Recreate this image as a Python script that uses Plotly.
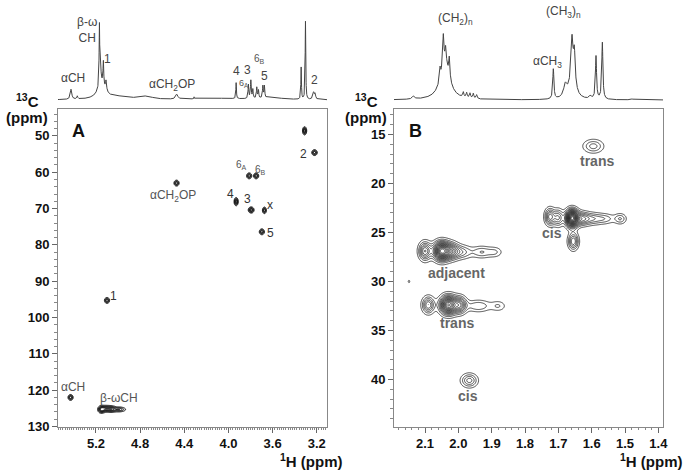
import numpy as np
import plotly.graph_objects as go

W, H = 689, 473

# ---------------- 1D 1H spectrum, panel A (peak list) ----------------
a1d_ppm    = [5.426, 5.369, 5.169, 5.160, 5.15, 5.133, 5.109, 4.74, 4.468, 4.311, 3.930, 3.819, 3.797, 3.779, 3.743, 3.728, 3.688, 3.674, 3.60, 3.341, 3.302, 3.229, 3.215, 4.1, 5.0]
a1d_height = [10, 3, 58, 22, 14, 24, 10, 3, 5, 2, 16, 14, 18, 9, 11, 8, 12, 12, 2, 32, 78, 7, 5, 1.5, 3]
a1d_width  = [0.008, 0.005, 0.003, 0.006, 0.04, 0.004, 0.006, 0.06, 0.012, 0.002, 0.003, 0.004, 0.004, 0.004, 0.004, 0.004, 0.004, 0.004, 0.12, 0.003, 0.003, 0.008, 0.006, 0.25, 0.15]

# ---------------- 1D 1H spectrum, panel B (peak list) ----------------
b1d_ppm    = [2.135, 2.040, 2.055, 2.045, 2.038, 2.027, 1.985, 1.975, 1.965, 1.955, 1.945, 1.715, 1.679, 1.659, 1.652, 1.658, 1.604, 1.587, 1.568, 1.479]
b1d_height = [3, 38, 12, 30, 14, 20, 5, 5, 5, 5, 4, 30, 12, 35, 30, 25, 3, 43, 57, 1]
b1d_width  = [0.004, 0.016, 0.002, 0.002, 0.002, 0.002, 0.002, 0.002, 0.002, 0.002, 0.002, 0.002, 0.006, 0.003, 0.003, 0.010, 0.004, 0.002, 0.002, 0.004]

# ---------------- 2D HSQC peaks, panel A ----------------
a2d_h   = [5.430, 5.150, 5.110, 5.060, 4.990, 5.100, 4.470, 3.930, 3.794, 3.812, 3.749, 3.674, 3.697, 3.310, 3.220]
a2d_c   = [122.0, 125.3, 125.1, 125.2, 125.3, 95.3, 63.0, 68.1, 70.4, 61.0, 61.0, 70.5, 76.4, 48.6, 54.6]
a2d_amp = [1.0, 1.3, 1.0, 1.0, 0.8, 1.0, 1.0, 1.2, 1.2, 1.0, 1.0, 1.0, 1.0, 1.2, 1.0]
a2d_sh  = [0.013, 0.018, 0.025, 0.025, 0.035, 0.013, 0.013, 0.010, 0.014, 0.013, 0.013, 0.010, 0.013, 0.010, 0.014]
a2d_sc  = [0.45, 0.55, 0.5, 0.5, 0.4, 0.45, 0.45, 0.6, 0.45, 0.45, 0.45, 0.5, 0.45, 0.6, 0.45]

# ---------------- 2D HSQC peaks, panel B ----------------
b2d_h   = [1.595, 1.725, 1.700, 1.659, 1.630, 1.600, 1.560, 1.514, 1.655, 2.100, 2.050, 2.020, 1.990, 1.930, 1.890, 2.090, 2.030, 1.995, 1.940, 1.880, 1.967, 2.148]
b2d_c   = [16.2, 23.4, 23.5, 23.55, 23.6, 23.6, 23.6, 23.6, 25.9, 26.9, 26.9, 26.9, 27.0, 27.0, 27.0, 32.4, 32.4, 32.4, 32.5, 32.5, 40.1, 30.0]
b2d_amp = [0.35, 0.65, 0.5, 1.8, 0.5, 0.35, 0.25, 0.3, 0.6, 0.7, 1.5, 0.6, 0.35, 0.3, 0.2, 0.6, 1.4, 0.7, 0.3, 0.2, 0.45, 0.12]
b2d_sh  = [0.020, 0.010, 0.010, 0.012, 0.015, 0.020, 0.020, 0.012, 0.010, 0.012, 0.016, 0.015, 0.020, 0.020, 0.015, 0.012, 0.016, 0.013, 0.025, 0.015, 0.016, 0.004]
b2d_sc  = [0.45, 0.55, 0.55, 0.55, 0.45, 0.4, 0.35, 0.35, 0.55, 0.6, 0.6, 0.55, 0.45, 0.4, 0.35, 0.55, 0.6, 0.55, 0.4, 0.35, 0.45, 0.2]

# axis ranges
a_xr, a_yr = [5.544, 3.107], [130, 42.6]
b_xr, b_yr = [2.193, 1.386], [44.8, 12.4]


def lorentz(x, pos, hts, wds):
    y = np.zeros_like(x)
    for c, h, w in zip(pos, hts, wds):
        y += h * w * w / ((x - c) ** 2 + w * w)
    return y


def gauss2d(xg, yg, hs, cs, amps, shs, scs):
    X, Y = np.meshgrid(xg, yg)
    Z = np.zeros_like(X)
    for h, c, a, sh, sc in zip(hs, cs, amps, shs, scs):
        Z += a * np.exp(-0.5 * (((X - h) / sh) ** 2 + ((Y - c) / sc) ** 2))
    return np.round(Z, 3)


fig = go.Figure()

# 1D spectra
xa = np.linspace(a_xr[1], a_xr[0], 3000)
fig.add_trace(go.Scatter(x=xa, y=lorentz(xa, a1d_ppm, a1d_height, a1d_width), mode='lines',
                         line=dict(color='#444', width=1), xaxis='x3', yaxis='y3', hoverinfo='skip'))
xb = np.linspace(b_xr[1], b_xr[0], 3000)
fig.add_trace(go.Scatter(x=xb, y=lorentz(xb, b1d_ppm, b1d_height, b1d_width), mode='lines',
                         line=dict(color='#444', width=1), xaxis='x4', yaxis='y4', hoverinfo='skip'))

# 2D contours panel A
xg = np.linspace(a_xr[1], a_xr[0], 600)
yg = np.linspace(a_yr[1], a_yr[0], 450)
fig.add_trace(go.Contour(x=xg, y=yg, z=gauss2d(xg, yg, a2d_h, a2d_c, a2d_amp, a2d_sh, a2d_sc),
                         contours=dict(start=0.2, end=1.2, size=0.2, coloring='none'),
                         line=dict(color='#111', width=1), showscale=False, hoverinfo='skip',
                         xaxis='x', yaxis='y'))
# 2D contours panel B
xg2 = np.linspace(b_xr[1], b_xr[0], 400)
yg2 = np.linspace(b_yr[1], b_yr[0], 400)
fig.add_trace(go.Contour(x=xg2, y=yg2, z=gauss2d(xg2, yg2, b2d_h, b2d_c, b2d_amp, b2d_sh, b2d_sc),
                         contours=dict(start=0.1, end=2.0, size=0.1, coloring='none'),
                         line=dict(color='#222', width=0.8), showscale=False, hoverinfo='skip',
                         xaxis='x2', yaxis='y2'))

FONT = 'Liberation Sans, Arial, sans-serif'
tickfont = dict(family=FONT, size=13, color='#111', weight='bold')
dom_ax = [58 / W, 327 / W]
dom_bx = [394 / W, 663 / W]
dom_2d = [1 - 426.5 / H, 1 - 109 / H]
dom_1d = [1 - 102 / H, 1 - 8 / H]

frame = dict(showline=True, mirror=True, linecolor='#888', linewidth=1, ticks='outside',
             ticklen=5, tickcolor='#666', showgrid=False, zeroline=False, tickfont=tickfont,
             automargin=False)

fig.update_layout(
    width=W, height=H, margin=dict(l=0, r=0, t=0, b=0, autoexpand=False),
    paper_bgcolor='white', plot_bgcolor='white', showlegend=False,
    xaxis=dict(domain=dom_ax, range=a_xr, anchor='y', tick0=3.2, dtick=0.4, tickformat='.1f',
               minor=dict(dtick=0.02, ticklen=2, ticks='outside', tickcolor='#888'), **frame),
    yaxis=dict(domain=dom_2d, range=a_yr, anchor='x', tick0=50, dtick=10,
               minor=dict(dtick=2, ticklen=3, ticks='outside', tickcolor='#888'), **frame),
    xaxis2=dict(domain=dom_bx, range=b_xr, anchor='y2', tick0=1.4, dtick=0.1, tickformat='.1f',
                minor=dict(dtick=0.02, ticklen=2, ticks='outside', tickcolor='#888'), **frame),
    yaxis2=dict(domain=dom_2d, range=b_yr, anchor='x2', tick0=15, dtick=5,
                minor=dict(dtick=1, ticklen=3, ticks='outside', tickcolor='#888'), **frame),
    xaxis3=dict(domain=dom_ax, range=a_xr, anchor='y3', visible=False, automargin=False),
    yaxis3=dict(domain=dom_1d, range=[-2, 92], anchor='x3', visible=False, automargin=False),
    xaxis4=dict(domain=dom_bx, range=b_xr, anchor='y4', visible=False, automargin=False),
    yaxis4=dict(domain=dom_1d, range=[-2, 92], anchor='x4', visible=False, automargin=False),
)

ann = []
def add(text, x, y, xref, yref, size=12, color='#555', bold=False, xanchor='center', yanchor='middle'):
    ann.append(dict(text=text, x=x, y=y, xref=xref, yref=yref, showarrow=False,
                    xanchor=xanchor, yanchor=yanchor,
                    font=dict(family=FONT, size=size, color=color, weight='bold' if bold else 'normal')))

def P(px, py):
    return px / W, 1 - py / H

# Panel letters and axis titles
for lab, (pxx, pyy) in [('A', (78, 131)), ('B', (415, 131))]:
    x, y = P(pxx, pyy)
    add(lab, x, y, 'paper', 'paper', size=18, color='#111', bold=True)
for pxx in (345, 685):
    x, y = P(pxx, 460)
    add('<sup>1</sup>H (ppm)', x, y, 'paper', 'paper', size=15, color='#111', bold=True, xanchor='right')
for pxx in (27, 366):
    x, y = P(pxx, 101)
    add('<sup>13</sup>C', x, y, 'paper', 'paper', size=15, color='#111', bold=True)
    x, y = P(pxx, 118)
    add('(ppm)', x, y, 'paper', 'paper', size=15, color='#111', bold=True)

# 1D labels panel A
for t, x, y in [('β-ω<br>CH', 5.281, 70), ('1', 5.093, 41), ('αCH', 5.411, 22), ('αCH<sub>2</sub>OP', 4.513, 15),
                ('4', 3.924, 29), ('3', 3.824, 30), ('5', 3.674, 24), ('2', 3.220, 20)]:
    add(t, x, y, 'x3', 'y3', size=12, color='#444')
add('6<sub>A</sub>', 3.862, 16, 'x3', 'y3', size=9, color='#555')
add('6<sub>B</sub>', 3.722, 41, 'x3', 'y3', size=10, color='#555')

# 1D labels panel B
for t, x, y in [('(CH<sub>2</sub>)<sub>n</sub>', 2.008, 81), ('αCH<sub>3</sub>', 1.734, 38), ('(CH<sub>3</sub>)<sub>n</sub>', 1.685, 88)]:
    add(t, x, y, 'x4', 'y4', size=12, color='#444')

# 2D labels panel A
for t, x, y in [('αCH', 5.408, 119.1), ('β-ωCH', 4.995, 122.1), ('αCH<sub>2</sub>OP', 4.506, 66.6)]:
    add(t, x, y, 'x', 'y', size=12, color='#555')
for t, x, y in [('1', 5.045, 94.2), ('4', 3.978, 65.9), ('3', 3.828, 67.3), ('x', 3.619, 69.1),
                ('5', 3.622, 76.7), ('2', 3.320, 54.9)]:
    add(t, x, y, 'x', 'y', size=12, color='#333')
add('6<sub>A</sub>', 3.879, 58.1, 'x', 'y', size=10, color='#555')
add('6<sub>B</sub>', 3.713, 59.3, 'x', 'y', size=10, color='#555')

# 2D labels panel B
for t, x, y in [('trans', 1.584, 17.7), ('cis', 1.718, 25.1), ('adjacent', 2.005, 29.1),
                ('trans', 2.005, 34.2), ('cis', 1.972, 41.7)]:
    add(t, x, y, 'x2', 'y2', size=14, color='#666', bold=True)

fig.update_layout(annotations=ann)
fig.write_html("out.html", config={'displayModeBar': False},
               post_script="document.body.style.margin='0';document.body.style.overflow='hidden';")
